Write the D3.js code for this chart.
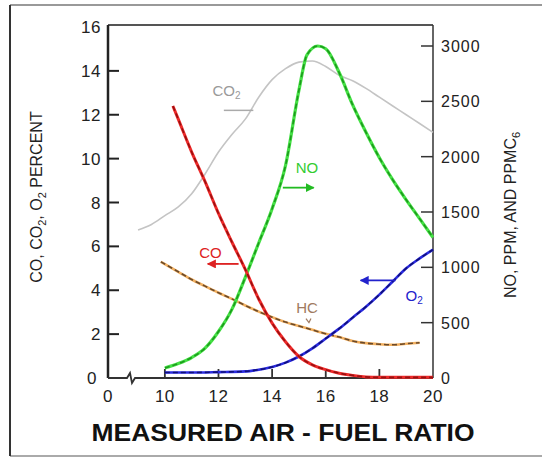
<!DOCTYPE html>
<html>
<head>
<meta charset="utf-8">
<script src="https://cdnjs.cloudflare.com/ajax/libs/d3/7.8.5/d3.min.js"></script>
<style>
body { margin: 0; background: #fff; }
text { font-family: 'Liberation Sans', Arial, sans-serif; }
</style>
</head>
<body>
<div id="vis"></div>
<script>
// air-fuel ratio readings for each curve
var coRatio = [10.3, 10.5, 11, 11.5, 12, 12.5, 13, 13.5, 14, 14.5, 15, 15.5, 16, 16.5, 17, 17.5, 18, 19, 20];
var coPct = [12.4, 11.8, 10.3, 8.95, 7.5, 6.2, 4.95, 3.6, 2.5, 1.65, 0.98, 0.6, 0.38, 0.22, 0.12, 0.05, 0.03, 0.03, 0.03];

var co2Ratio = [9, 9.5, 10, 10.5, 11, 11.5, 12, 12.5, 13, 13.5, 14, 14.5, 15, 15.5, 16, 16.5, 17, 17.5, 18, 18.5, 19, 19.5, 20];
var co2Pct = [6.75, 7.0, 7.4, 7.8, 8.4, 9.3, 10.3, 11.1, 11.8, 12.8, 13.6, 14.1, 14.4, 14.45, 14.2, 13.8, 13.55, 13.2, 12.8, 12.4, 12.0, 11.6, 11.2];

var o2Ratio = [10, 11, 12, 13, 13.5, 14, 14.5, 15, 15.5, 16, 16.5, 17, 17.5, 18, 18.5, 19, 19.5, 20];
var o2Pct = [0.25, 0.25, 0.27, 0.3, 0.38, 0.5, 0.7, 0.98, 1.35, 1.8, 2.25, 2.75, 3.25, 3.8, 4.4, 5.0, 5.45, 5.85];

var noRatio = [10, 10.5, 11, 11.5, 12, 12.5, 13, 13.5, 14, 14.5, 15, 15.3, 15.7, 16, 16.5, 17, 17.5, 18, 18.5, 19, 19.5, 20];
var noPpm = [90, 130, 185, 270, 420, 620, 910, 1220, 1530, 1920, 2600, 2920, 3000, 2975, 2760, 2470, 2220, 1990, 1790, 1610, 1440, 1270];

var hcRatio = [9.85, 10.5, 11, 11.5, 12, 12.5, 13, 13.5, 14, 14.5, 15, 15.5, 16, 16.5, 17, 17.5, 18, 18.5, 19, 19.5];
var hcPpm = [1050, 960, 890, 830, 770, 715, 655, 600, 550, 505, 470, 435, 400, 370, 335, 315, 305, 300, 310, 318];

var xTicks = [0, 10, 12, 14, 16, 18, 20];
var leftTicks = [0, 2, 4, 6, 8, 10, 12, 14, 16];
var rightTicks = [0, 500, 1000, 1500, 2000, 2500, 3000];

var width = 542,
    height = 457;

var svg = d3.select('#vis')
    .append('svg')
    .attr('width', width)
    .attr('height', height);

// broken x axis: 0 at the corner, then 10..20
var x = d3.scaleLinear()
    .domain([0, 8.7, 20])
    .range([108, 130, 433]);

var yL = d3.scaleLinear()
    .domain([0, 16])
    .range([378, 27]);

var yR = d3.scaleLinear()
    .domain([0, 3000])
    .range([378, 46]);

var defs = svg.append('defs');
function arrowMarker(id, color) {
    defs.append('marker')
        .attr('id', id)
        .attr('viewBox', '0 0 10 10')
        .attr('refX', 9)
        .attr('refY', 5)
        .attr('markerWidth', 5)
        .attr('markerHeight', 5)
        .attr('orient', 'auto')
        .append('path')
        .attr('d', 'M0,0L10,5L0,10z')
        .attr('fill', color);
}
arrowMarker('arNO', '#22bb22');
arrowMarker('arCO', '#dd2222');
arrowMarker('arO2', '#2222cc');

// outer picture border
svg.append('line').attr('x1', 10).attr('x2', 542).attr('y1', 5).attr('y2', 5)
    .attr('stroke', '#999').attr('stroke-width', 2);
svg.append('line').attr('x1', 10).attr('x2', 542).attr('y1', 456).attr('y2', 456)
    .attr('stroke', '#aaa').attr('stroke-width', 2);
svg.append('line').attr('x1', 10).attr('x2', 10).attr('y1', 5).attr('y2', 456)
    .attr('stroke', '#333').attr('stroke-width', 2);

// plot frame
svg.append('line').attr('x1', x(0)).attr('x2', x(20)).attr('y1', 25).attr('y2', 25)
    .attr('stroke', '#555').attr('stroke-width', 2);
svg.append('line').attr('x1', x(0)).attr('x2', x(0)).attr('y1', 25).attr('y2', yL(0))
    .attr('stroke', '#222').attr('stroke-width', 2.5);
svg.append('line').attr('x1', x(20)).attr('x2', x(20)).attr('y1', 25).attr('y2', yL(0))
    .attr('stroke', '#333').attr('stroke-width', 1.5);

// bottom axis with break
var bx = x(8.7);
svg.append('path')
    .attr('d', 'M' + x(0) + ',' + yL(0) + 'H' + (bx - 3) + 'l3,-5l2,10l3,-5H' + x(20))
    .attr('fill', 'none')
    .attr('stroke', '#333')
    .attr('stroke-width', 1.8);

// ticks
svg.selectAll('.ltick')
    .data(leftTicks.filter(function(d) { return d > 0 && d < 16; }))
    .enter()
    .append('line')
    .attr('x1', x(0)).attr('x2', x(0) + 11)
    .attr('y1', function(d) { return yL(d); })
    .attr('y2', function(d) { return yL(d); })
    .attr('stroke', '#222').attr('stroke-width', 2);

svg.selectAll('.rtick')
    .data(rightTicks.filter(function(d) { return d > 0; }))
    .enter()
    .append('line')
    .attr('x1', x(20) - 12).attr('x2', x(20))
    .attr('y1', function(d) { return yR(d); })
    .attr('y2', function(d) { return yR(d); })
    .attr('stroke', '#333').attr('stroke-width', 1.5);

svg.selectAll('.btick')
    .data(xTicks.filter(function(d) { return d > 0 && d < 20; }))
    .enter()
    .append('line')
    .attr('x1', function(d) { return x(d); })
    .attr('x2', function(d) { return x(d); })
    .attr('y1', yL(0)).attr('y2', yL(0) - 9)
    .attr('stroke', '#333').attr('stroke-width', 1.8);

// tick labels
svg.selectAll('.llab')
    .data(leftTicks)
    .enter()
    .append('text')
    .attr('x', function(d) { return d === 0 ? 97 : 101; })
    .attr('y', function(d) { return yL(d) + 6; })
    .attr('text-anchor', 'end')
    .attr('font-size', 17)
    .attr('letter-spacing', 0.5)
    .attr('fill', '#222')
    .text(function(d) { return d; });

svg.selectAll('.rlab')
    .data(rightTicks)
    .enter()
    .append('text')
    .attr('x', 441)
    .attr('y', function(d) { return yR(d) + 6; })
    .attr('font-size', 16)
    .attr('letter-spacing', 1)
    .attr('fill', '#222')
    .text(function(d) { return d; });

svg.selectAll('.xlab')
    .data(xTicks)
    .enter()
    .append('text')
    .attr('x', function(d) { return x(d); })
    .attr('y', 402)
    .attr('text-anchor', 'middle')
    .attr('font-size', 17)
    .attr('letter-spacing', 0.5)
    .attr('fill', '#222')
    .text(function(d) { return d; });

// axis titles
svg.append('text')
    .attr('x', 283)
    .attr('y', 441)
    .attr('text-anchor', 'middle')
    .attr('font-size', 24)
    .attr('font-weight', 'bold')
    .attr('textLength', 383)
    .attr('lengthAdjust', 'spacingAndGlyphs')
    .attr('fill', '#111')
    .text('MEASURED AIR - FUEL RATIO');

var lt = svg.append('text')
    .attr('transform', 'translate(42,197) rotate(-90)')
    .attr('text-anchor', 'middle')
    .attr('font-size', 16)
    .attr('fill', '#222');
lt.append('tspan').text('CO, CO');
lt.append('tspan').attr('font-size', 11).attr('dy', 4).text('2');
lt.append('tspan').attr('dy', -4).text(', O');
lt.append('tspan').attr('font-size', 11).attr('dy', 4).text('2');
lt.append('tspan').attr('dy', -4).text(' PERCENT');

var rt = svg.append('text')
    .attr('transform', 'translate(516,215) rotate(-90)')
    .attr('text-anchor', 'middle')
    .attr('font-size', 16)
    .attr('fill', '#222');
rt.append('tspan').text('NO, PPM, AND PPMC');
rt.append('tspan').attr('font-size', 11).attr('dy', 4).text('6');

// curves
function pts(xs, ys) {
    return xs.map(function(d, i) { return [d, ys[i]]; });
}

function drawCurve(data, yScale, base, dash, w) {
    var line = d3.line()
        .x(function(d) { return x(d[0]); })
        .y(function(d) { return yScale(d[1]); })
        .curve(d3.curveMonotoneX);
    svg.append('path')
        .datum(data)
        .attr('fill', 'none')
        .attr('stroke', base)
        .attr('stroke-width', w)
        .attr('stroke-linejoin', 'round')
        .attr('d', line);
    if (dash) {
        svg.append('path')
            .datum(data)
            .attr('fill', 'none')
            .attr('stroke', dash)
            .attr('stroke-width', 1.6)
            .attr('stroke-dasharray', '5,3')
            .attr('d', line);
    }
}

drawCurve(pts(co2Ratio, co2Pct), yL, '#c4c4c4', null, 1.6);
drawCurve(pts(hcRatio, hcPpm), yR, '#f2b060', '#6b4a2a', 2.6);
drawCurve(pts(o2Ratio, o2Pct), yL, '#2a2ae0', '#10107a', 2.6);
drawCurve(pts(noRatio, noPpm), yR, '#44e044', '#1c9a1c', 3.2);
drawCurve(pts(coRatio, coPct), yL, '#ee2a2a', '#9a1010', 3);

// annotations
var c2 = svg.append('text')
    .attr('x', x(12.3))
    .attr('y', yL(12.85))
    .attr('text-anchor', 'middle')
    .attr('font-size', 15)
    .attr('fill', '#9a9a9a');
c2.append('tspan').text('CO');
c2.append('tspan').attr('font-size', 10).attr('dy', 3).text('2');
svg.append('line')
    .attr('x1', x(12.2)).attr('x2', x(13.3))
    .attr('y1', yL(12.2)).attr('y2', yL(12.2))
    .attr('stroke', '#aaa').attr('stroke-width', 1.5);

svg.append('text')
    .attr('x', x(15.3))
    .attr('y', yR(1850))
    .attr('text-anchor', 'middle')
    .attr('font-size', 15)
    .attr('fill', '#33cc33')
    .text('NO');
svg.append('line')
    .attr('x1', x(14.4)).attr('x2', x(15.55))
    .attr('y1', yR(1720)).attr('y2', yR(1720))
    .attr('stroke', '#22bb22').attr('stroke-width', 1.8)
    .attr('marker-end', 'url(#arNO)');

svg.append('text')
    .attr('x', x(11.7))
    .attr('y', yL(5.45))
    .attr('text-anchor', 'middle')
    .attr('font-size', 15)
    .attr('fill', '#dd2222')
    .text('CO');
svg.append('line')
    .attr('x1', x(12.75)).attr('x2', x(11.6))
    .attr('y1', yL(5.2)).attr('y2', yL(5.2))
    .attr('stroke', '#dd2222').attr('stroke-width', 1.8)
    .attr('marker-end', 'url(#arCO)');

svg.append('text')
    .attr('x', x(15.3))
    .attr('y', yR(590))
    .attr('text-anchor', 'middle')
    .attr('font-size', 15)
    .attr('fill', '#a07a60')
    .text('HC');
svg.append('path')
    .attr('d', 'M' + (x(15.3) - 1) + ',' + (yR(510) - 3) + 'l3,4l2,-4')
    .attr('fill', 'none')
    .attr('stroke', '#a07a60')
    .attr('stroke-width', 1.2);

var o2 = svg.append('text')
    .attr('x', x(19.3))
    .attr('y', yL(3.5))
    .attr('text-anchor', 'middle')
    .attr('font-size', 15)
    .attr('fill', '#2222cc');
o2.append('tspan').text('O');
o2.append('tspan').attr('font-size', 10).attr('dy', 3).text('2');
svg.append('line')
    .attr('x1', x(18.6)).attr('x2', x(17.3))
    .attr('y1', yL(4.45)).attr('y2', yL(4.45))
    .attr('stroke', '#2222cc').attr('stroke-width', 1.8)
    .attr('marker-end', 'url(#arO2)');
</script>
</body>
</html>
